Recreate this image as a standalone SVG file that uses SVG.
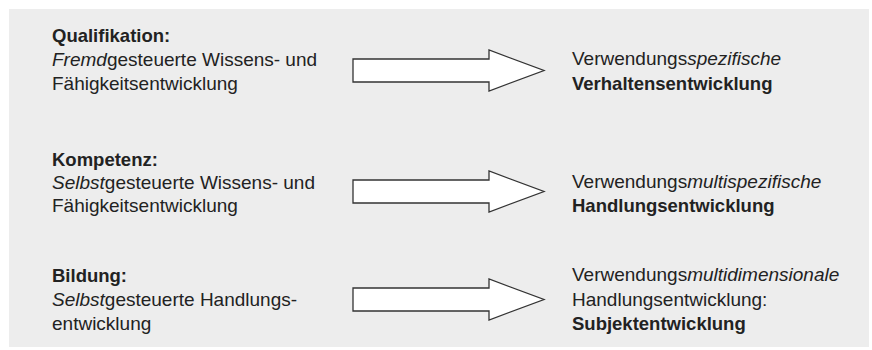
<svg xmlns="http://www.w3.org/2000/svg" width="872" height="350" viewBox="0 0 872 350">
<style>
text{font-family:"Liberation Sans",Arial,sans-serif;font-size:19px;fill:#222}
.b{font-weight:bold;font-size:18.5px}
.i{font-style:italic}
.arrow{fill:#fff;stroke:#333;stroke-width:1.3;stroke-linejoin:miter}
</style>
<rect x="9" y="9" width="860" height="338" fill="#ededed"/>
<g id="n-qualifikation">
<text x="52" y="42" class="b">Qualifikation:</text>
<text x="52" y="66"><tspan class="i">Fremd</tspan>gesteuerte Wissens- und</text>
<text x="52" y="90">Fähigkeitsentwicklung</text>
</g>
<g id="n-verhalten">
<text x="572" y="65">Verwendungs<tspan class="i">spezifische</tspan></text>
<text x="572" y="90" class="b">Verhaltensentwicklung</text>
</g>
<g id="n-kompetenz">
<text x="52" y="165.5" class="b">Kompetenz:</text>
<text x="52" y="188.5"><tspan class="i">Selbst</tspan>gesteuerte Wissens- und</text>
<text x="52" y="212">Fähigkeitsentwicklung</text>
</g>
<g id="n-handlung">
<text x="572" y="188">Verwendungs<tspan class="i">multispezifische</tspan></text>
<text x="572" y="212" class="b">Handlungsentwicklung</text>
</g>
<g id="n-bildung">
<text x="52" y="281.5" class="b">Bildung:</text>
<text x="52" y="305.5"><tspan class="i">Selbst</tspan>gesteuerte Handlungs-</text>
<text x="52" y="330">entwicklung</text>
</g>
<g id="n-subjekt">
<text x="572" y="281">Verwendungs<tspan class="i">multidimensionale</tspan></text>
<text x="572" y="305.5">Handlungsentwicklung:</text>
<text x="572" y="330" class="b">Subjektentwicklung</text>
</g>
<g id="connectors">
<polygon class="arrow" points="353,59 489,59 489,50 544,70.5 489,91 489,82 353,82"/>
<polygon class="arrow" points="353,180 489,180 489,171 544,191.5 489,212 489,203 353,203"/>
<polygon class="arrow" points="353,288 489,288 489,279 544,299.5 489,320 489,311 353,311"/>
</g>
</svg>
